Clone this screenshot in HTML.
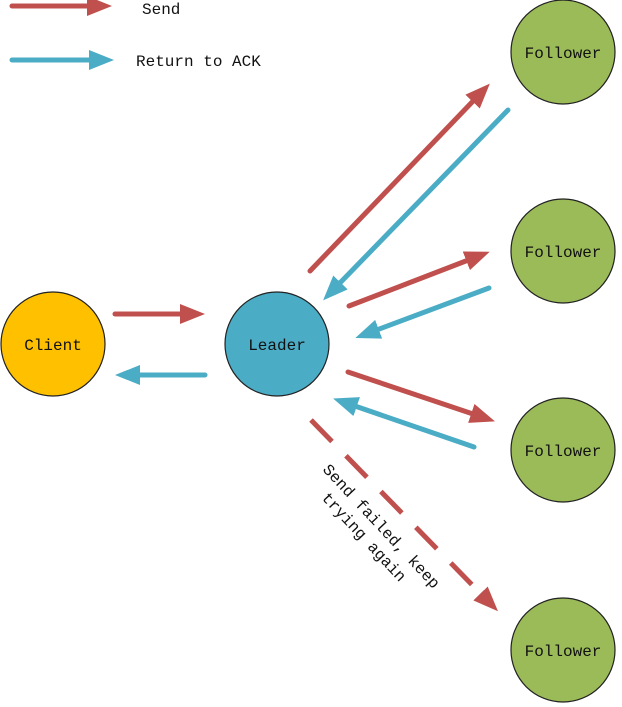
<!DOCTYPE html>
<html><head><meta charset="utf-8"><style>
html,body{margin:0;padding:0;background:#fff;width:622px;height:707px;overflow:hidden}
svg{display:block}
text{font-family:"Liberation Mono","Noto Serif CJK SC",monospace;fill:#111}
</style></head><body>
<svg width="622" height="707" viewBox="0 0 622 707" xmlns="http://www.w3.org/2000/svg">
<defs>
<marker id="r" markerWidth="5" markerHeight="4" refX="1" refY="2" orient="auto" markerUnits="strokeWidth"><path d="M0,0 L5,2 L0,4 z" fill="#C0504D"/></marker>
<marker id="b" markerWidth="5" markerHeight="4" refX="1" refY="2" orient="auto" markerUnits="strokeWidth"><path d="M0,0 L5,2 L0,4 z" fill="#4BACC6"/></marker>
</defs>
<g stroke-width="5" stroke-linecap="round" fill="none">
<line x1="12" y1="6" x2="92" y2="6" stroke="#C0504D" marker-end="url(#r)"/>
<line x1="12" y1="60" x2="94" y2="60" stroke="#4BACC6" marker-end="url(#b)"/>
<line x1="115" y1="314" x2="185" y2="314" stroke="#C0504D" marker-end="url(#r)"/>
<line x1="205" y1="375" x2="135" y2="375" stroke="#4BACC6" marker-end="url(#b)"/>
<line x1="310" y1="271" x2="476" y2="98" stroke="#C0504D" marker-end="url(#r)"/>
<line x1="508" y1="110" x2="337" y2="286" stroke="#4BACC6" marker-end="url(#b)"/>
<line x1="349" y1="306" x2="471" y2="259" stroke="#C0504D" marker-end="url(#r)"/>
<line x1="489" y1="288" x2="374" y2="331" stroke="#4BACC6" marker-end="url(#b)"/>
<line x1="348" y1="372" x2="476" y2="415" stroke="#C0504D" marker-end="url(#r)"/>
<line x1="474" y1="447" x2="352" y2="405" stroke="#4BACC6" marker-end="url(#b)"/>
<line x1="311" y1="420" x2="484" y2="597" stroke="#C0504D" stroke-dasharray="30 20" stroke-linecap="butt" marker-end="url(#r)"/>
</g>
<g stroke="#222" stroke-width="1.2">
<circle cx="53" cy="344" r="52" fill="#FFC000"/>
<circle cx="277" cy="344" r="52" fill="#4BACC6"/>
<circle cx="563" cy="52" r="52" fill="#9BBB59"/>
<circle cx="563" cy="251" r="52" fill="#9BBB59"/>
<circle cx="563" cy="450" r="52" fill="#9BBB59"/>
<circle cx="563" cy="650" r="52" fill="#9BBB59"/>
</g>
<g font-size="16" text-anchor="middle">
<text x="53" y="350">Client</text>
<text x="277" y="350">Leader</text>
<text x="563" y="58">Follower</text>
<text x="563" y="257">Follower</text>
<text x="563" y="456">Follower</text>
<text x="563" y="656">Follower</text>
</g>
<text x="142" y="14" font-size="16">Send</text>
<text x="136" y="66" font-size="16">Return to ACK</text>
<g font-size="16" transform="rotate(47 322 470)">
<text x="322" y="470">Send failed, keep</text>
<text x="342" y="490">trying again</text>
</g>
</svg>
</body></html>
